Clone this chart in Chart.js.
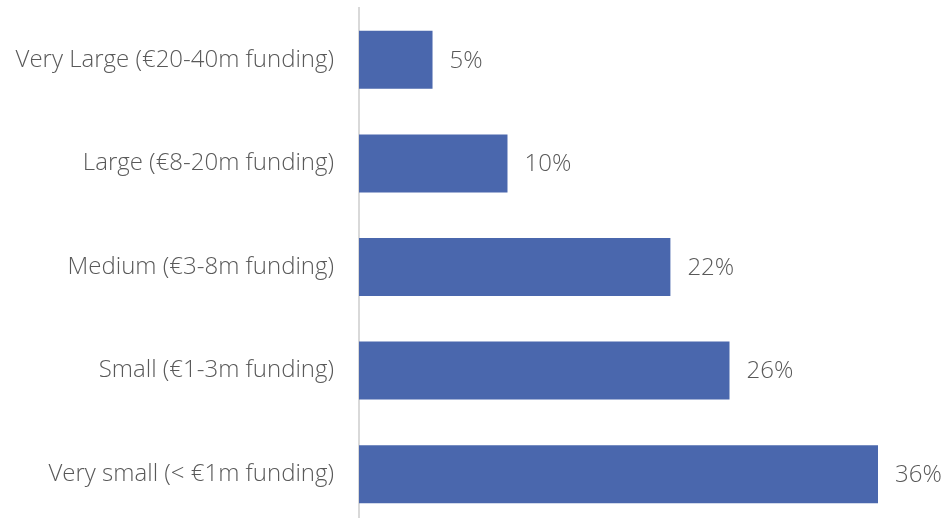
<!DOCTYPE html>
<html>
<head>
<meta charset="utf-8">
<script src="https://cdn.jsdelivr.net/npm/chart.js@4"></script>
<style>
  html, body { margin: 0; padding: 0; background: #fff; overflow: hidden; }
  canvas { display: block; }
</style>
</head>
<body>
<canvas id="c" width="943" height="526"></canvas>
<script>
const categories = [
  "Very Large (€20-40m funding)",
  "Large (€8-20m funding)",
  "Medium (€3-8m funding)",
  "Small (€1-3m funding)",
  "Very small (< €1m funding)"
];
const shares = [5.1, 10.3, 21.6, 25.7, 36.0];
const valueLabels = ["5%", "10%", "22%", "26%", "36%"];

const FONT = "'Open Sans', sans-serif";
const TEXT = "#595959";

const labelPlugin = {
  id: "valueLabels",
  afterDatasetsDraw(chart) {
    const ctx = chart.ctx;
    const meta = chart.getDatasetMeta(0);
    ctx.save();
    ctx.font = "300 24px " + FONT;
    ctx.fillStyle = TEXT;
    ctx.textAlign = "left";
    ctx.textBaseline = "middle";
    meta.data.forEach((bar, i) => {
      ctx.fillText(valueLabels[i], bar.x + 17, bar.y + 1);
    });
    ctx.restore();
  }
};

new Chart(document.getElementById("c"), {
  type: "bar",
  data: {
    labels: categories,
    datasets: [{
      data: shares,
      backgroundColor: "#4A67AD",
      borderWidth: 0,
      categoryPercentage: 1,
      barPercentage: 0.56
    }]
  },
  options: {
    indexAxis: "y",
    responsive: false,
    animation: false,
    devicePixelRatio: 1,
    layout: { padding: { top: 8, right: 65, bottom: 0, left: 0 } },
    plugins: { legend: { display: false }, tooltip: { enabled: false } },
    scales: {
      x: { display: false, min: 0, max: 36 },
      y: {
        grid: { display: false, drawTicks: false },
        border: { display: true, color: "#d9d9d9", width: 2 },
        ticks: {
          color: TEXT,
          padding: 25,
          font: { family: FONT, size: 24, weight: 300 }
        },
        afterFit(scale) {
          scale.width = 359;
          scale.paddingTop = 0;
          scale.paddingBottom = 0;
        }
      }
    }
  },
  plugins: [labelPlugin]
});
</script>
</body>
</html>
